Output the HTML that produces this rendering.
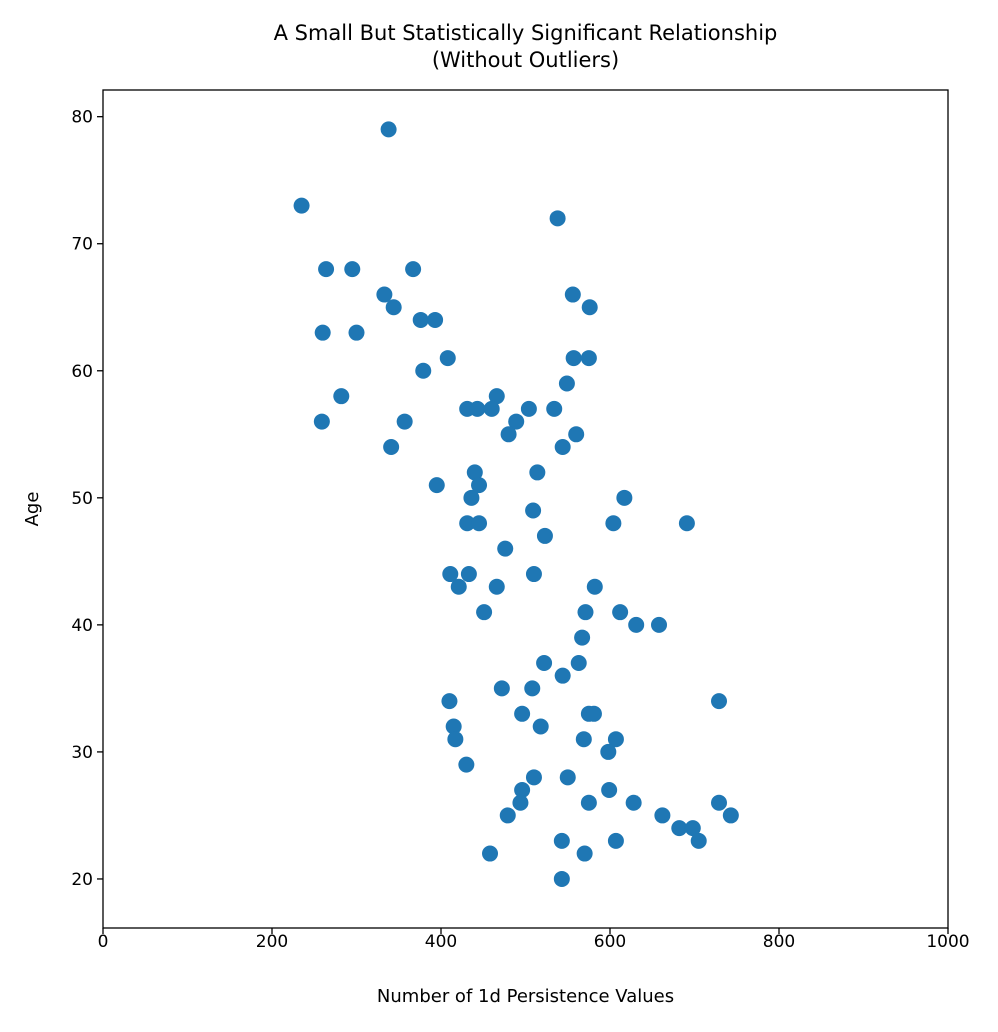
<!DOCTYPE html>
<html><head><meta charset="utf-8"><style>
body{margin:0;background:#fff;}
svg text{font-family:"DejaVu Sans","Liberation Sans",sans-serif;fill:#000;}
</style></head><body>
<svg id="chart" width="998" height="1027"></svg>
<script>
const xVals=[235,338,538,264,295,367,333,344,556,576,260,300,376,393,379,408,557,575,282,259,357,341,549,
466,431,443,460,504,534,489,480,560,544,440,514,445,436,617,395,509,431,445,604,691,523,476,411,433,510,
421,466,582,451,571,612,631,658,567,522,563,544,472,508,410,729,496,575,581,415,518,417,569,607,598,430,
510,550,496,599,494,575,628,729,479,662,743,682,698,543,607,705,458,570,543];
const yVals=[73,79,72,68,68,68,66,65,66,65,63,63,64,64,60,61,61,61,58,56,56,54,59,
58,57,57,57,57,57,56,55,55,54,52,52,51,50,50,51,49,48,48,48,48,47,46,44,44,44,
43,43,43,41,41,41,40,40,39,37,37,36,35,35,34,34,33,33,33,32,32,31,31,31,30,29,
28,28,27,27,26,26,26,26,25,25,25,24,24,23,23,23,22,22,20];
const xTicks=[0,200,400,600,800,1000];
const yTicks=[20,30,40,50,60,70,80];
const L=103,R=948,T=90,B=928,x0=0,x1=1000,y0=16.14,y1=82.1;
const sx=v=>L+(v-x0)/(x1-x0)*(R-L);
const sy=v=>B-(v-y0)/(y1-y0)*(B-T);
const svg=document.getElementById('chart');
const NS='http://www.w3.org/2000/svg';
function mk(t,a,txt){const e=document.createElementNS(NS,t);for(const k in a)e.setAttribute(k,a[k]);if(txt!==undefined)e.textContent=txt;svg.appendChild(e);return e;}
xVals.forEach((v,i)=>{
const c=mk('circle',{cx:sx(v),cy:sy(yVals[i]),r:8,fill:'#1f77b4'});


});
const f=mk('rect',{x:L,y:T,width:R-L,height:B-T,fill:'none',stroke:'#000','stroke-width':1.3});


xTicks.forEach(v=>{
const l=mk('line',{x1:sx(v),x2:sx(v),y1:B,y2:B+6,stroke:'#000','stroke-width':1.3});


const t=mk('text',{x:sx(v),y:B+19,'text-anchor':'middle','font-size':17},String(v));


});
yTicks.forEach(v=>{
const l=mk('line',{x1:L-6,x2:L,y1:sy(v),y2:sy(v),stroke:'#000','stroke-width':1.3});


const t=mk('text',{x:L-10,y:sy(v)+6,'text-anchor':'end','font-size':17},String(v));


});
let t=mk('text',{x:(L+R)/2,y:1002,'text-anchor':'middle','font-size':18},'Number of 1d Persistence Values');

t=mk('text',{x:38,y:(T+B)/2,'text-anchor':'middle','font-size':18,transform:'rotate(-90 38 '+((T+B)/2)+')'},'Age');

t=mk('text',{x:(L+R)/2,y:40,'text-anchor':'middle','font-size':21},'A Small But Statistically Significant Relationship');

t=mk('text',{x:(L+R)/2,y:67,'text-anchor':'middle','font-size':21},'(Without Outliers)');

</script>
</body></html>
